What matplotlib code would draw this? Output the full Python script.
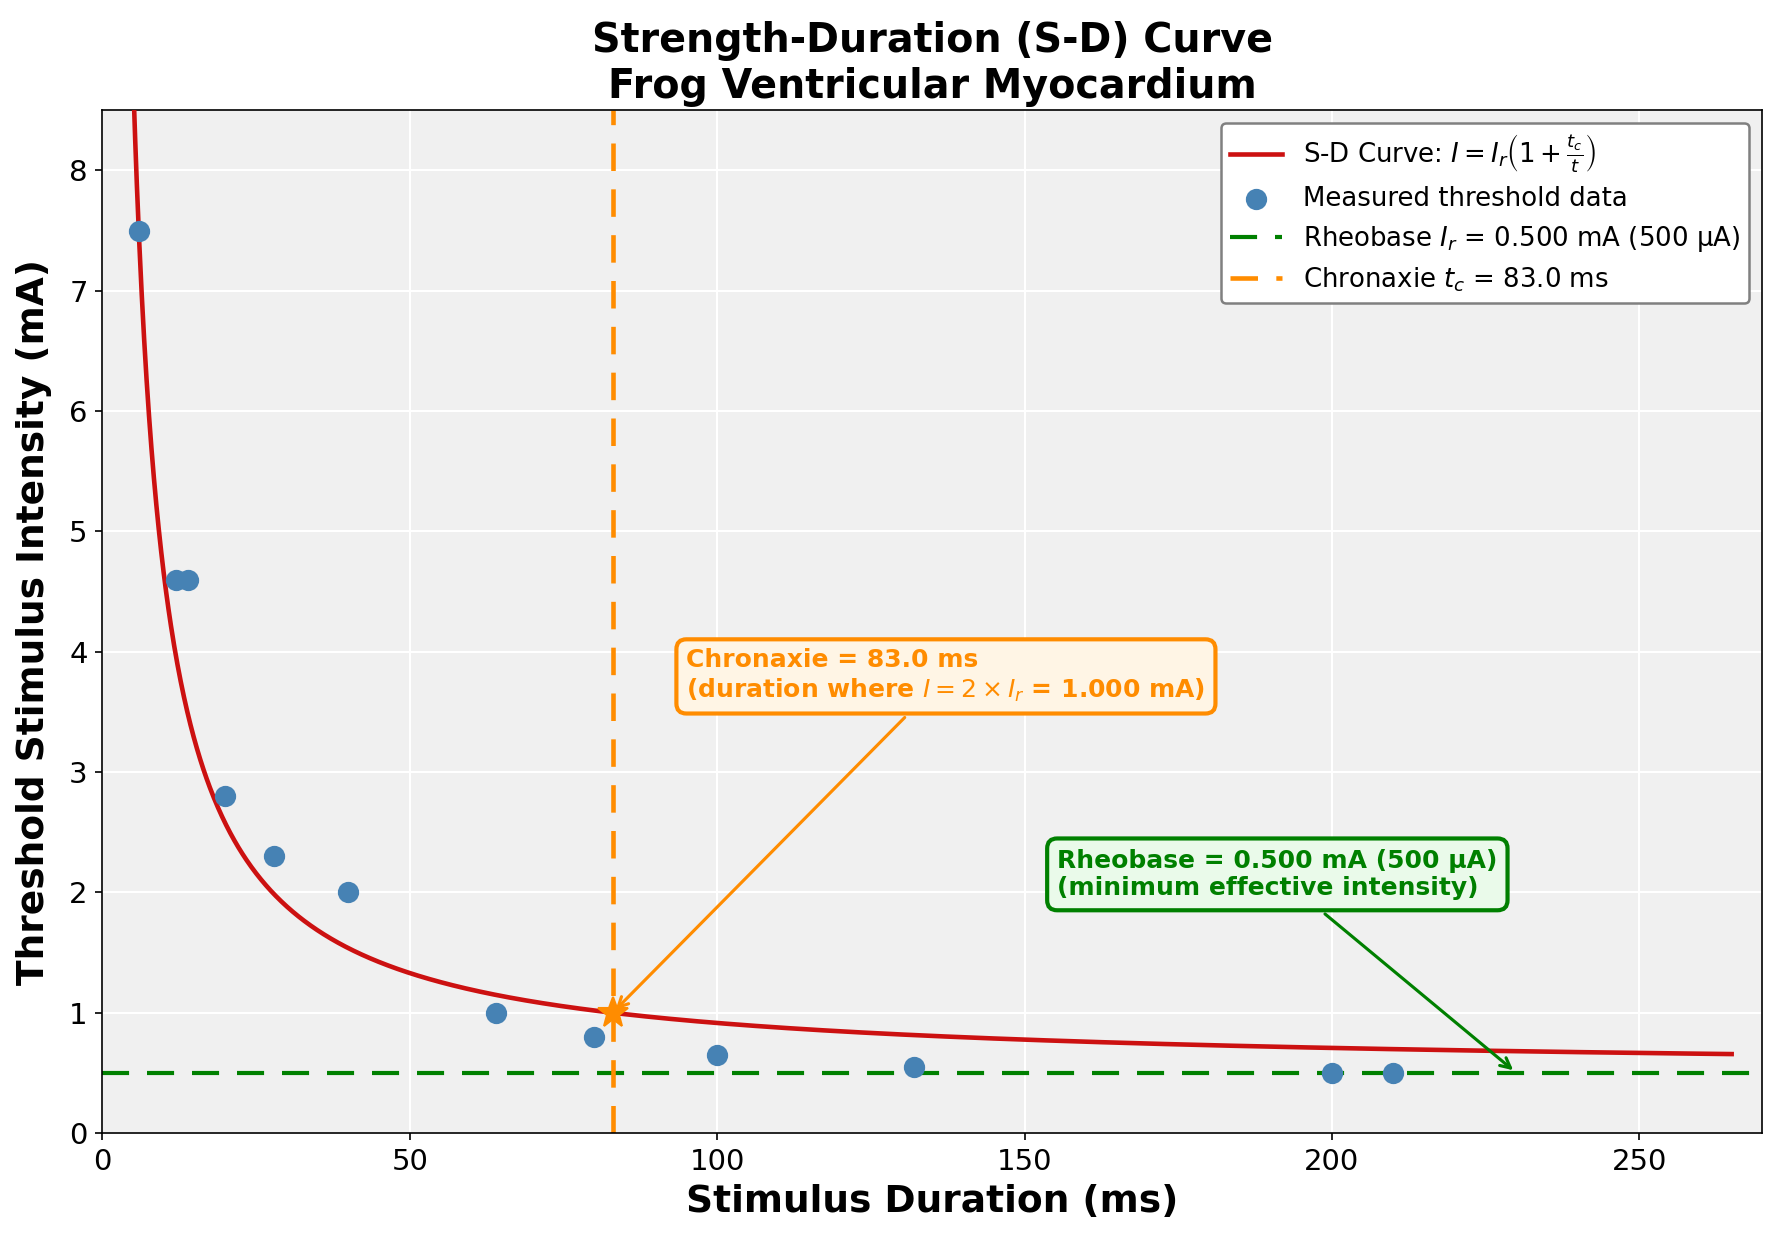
import matplotlib
matplotlib.use("Agg")
import matplotlib.pyplot as plt
import numpy as np

# measured threshold data (duration ms, intensity mA)
durations = [6, 12, 14, 20, 28, 40, 64, 80, 100, 132, 200, 210]
intensities = [7.5, 4.6, 4.6, 2.8, 2.3, 2.0, 1.0, 0.8, 0.65, 0.55, 0.5, 0.5]

rheobase = 0.5      # mA
chronaxie = 83.0    # ms
t_start, t_end = 1.0, 265.0


def main():
    fig = plt.figure(figsize=(11.88, 8.327), dpi=150)
    ax = fig.add_axes([0.0574, 0.0928, 0.9316, 0.8189])
    ax.set_facecolor('#f0f0f0')
    ax.grid(True, color='white', linewidth=1.0)
    ax.set_axisbelow(True)

    # fitted S-D curve
    t = np.linspace(t_start, t_end, 2000)
    curve = rheobase * (1 + chronaxie / t)
    ax.plot(t, curve, color='#cc1111', linewidth=2.2,
            label=r'S-D Curve: $I = I_r\left(1 + \frac{t_c}{t}\right)$', zorder=3)

    ax.scatter(durations, intensities, s=85, color='steelblue',
               label='Measured threshold data', zorder=4)

    ax.axhline(rheobase, color='green', linestyle=(0, (6.5, 4.3)), linewidth=2.0,
               label=r'Rheobase $I_r$ = 0.500 mA (500 μA)', zorder=2)
    ax.axvline(chronaxie, color='darkorange', linestyle=(0, (6, 4)), linewidth=2.2,
               label=r'Chronaxie $t_c$ = 83.0 ms', zorder=2)

    ax.plot([chronaxie], [2 * rheobase], marker='*', markersize=15,
            color='darkorange', zorder=5)

    ax.annotate('Chronaxie = 83.0 ms\n'
                r'(duration where $I = 2 \times I_r$ = 1.000 mA)',
                xy=(chronaxie, 2 * rheobase), xytext=(95, 3.8),
                fontsize=12, fontweight='bold', color='darkorange',
                ha='left', va='center',
                bbox=dict(boxstyle='round,pad=0.4', facecolor='#fff5e5',
                          edgecolor='darkorange', linewidth=2),
                arrowprops=dict(arrowstyle='->', color='darkorange', lw=1.5),
                zorder=6)

    ax.annotate('Rheobase = 0.500 mA (500 μA)\n(minimum effective intensity)',
                xy=(230, rheobase), xytext=(155.3, 2.15),
                fontsize=12, fontweight='bold', color='green',
                ha='left', va='center',
                bbox=dict(boxstyle='round,pad=0.4', facecolor='#eafaea',
                          edgecolor='green', linewidth=2),
                arrowprops=dict(arrowstyle='->', color='green', lw=1.5),
                zorder=6)

    ax.set_xlim(0, 270)
    ax.set_ylim(0, 8.5)
    ax.tick_params(labelsize=14)
    ax.set_xlabel('Stimulus Duration (ms)', fontsize=18, fontweight='bold')
    ax.set_ylabel('Threshold Stimulus Intensity (mA)', fontsize=18,
                  fontweight='bold', labelpad=8)
    ax.set_title('Strength-Duration (S-D) Curve\nFrog Ventricular Myocardium',
                 fontsize=19, fontweight='bold')

    leg = ax.legend(loc='upper right', fontsize=12.5, framealpha=1.0,
                    fancybox=True, borderpad=0.35, labelspacing=0.45)
    leg.get_frame().set_edgecolor('gray')
    leg.get_frame().set_linewidth(1.2)

    fig.savefig('out.png', dpi=150)


if __name__ == "__main__":
    main()
